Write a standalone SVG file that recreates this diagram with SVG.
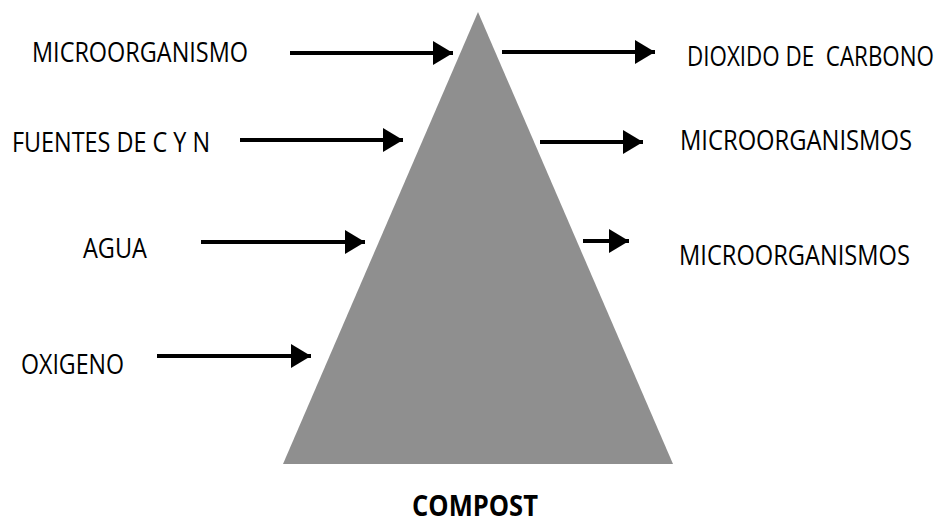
<svg xmlns="http://www.w3.org/2000/svg" width="947" height="519" viewBox="0 0 947 519">
  <style>
    .lbl { font-family: "Open Sans", "Liberation Sans", sans-serif; font-size: 28px; fill: #000; }
    .title { font-family: "Open Sans", "Liberation Sans", sans-serif; font-size: 29px; font-weight: bold; fill: #000; }
    .arrow { stroke: #000; stroke-width: 4; fill: none; marker-end: url(#head); }
  </style>
  <defs>
    <marker id="head" viewBox="0 0 20 24" refX="20" refY="12" markerWidth="20" markerHeight="24" markerUnits="userSpaceOnUse" orient="auto">
      <path d="M0,0 L20,12 L0,24 Z" fill="#000"/>
    </marker>
  </defs>
  <rect width="947" height="519" fill="#fff"/>

  <!-- compost pile -->
  <g id="pile">
    <polygon points="478,12 283,464 673,464" fill="#8f8f8f"/>
  </g>

  <!-- inputs -->
  <g id="in-microorganismo">
    <text class="lbl" x="32" y="62" textLength="216" lengthAdjust="spacingAndGlyphs">MICROORGANISMO</text>
  </g>
  <g id="in-fuentes">
    <text class="lbl" x="12" y="152" textLength="198" lengthAdjust="spacingAndGlyphs">FUENTES DE C Y N</text>
  </g>
  <g id="in-agua">
    <text class="lbl" x="83" y="258" textLength="64" lengthAdjust="spacingAndGlyphs">AGUA</text>
  </g>
  <g id="in-oxigeno">
    <text class="lbl" x="21" y="374" textLength="103" lengthAdjust="spacingAndGlyphs">OXIGENO</text>
  </g>

  <!-- outputs -->
  <g id="out-co2">
    <text class="lbl" x="687" y="66" textLength="247" lengthAdjust="spacingAndGlyphs" xml:space="preserve">DIOXIDO DE  CARBONO</text>
  </g>
  <g id="out-micro-1">
    <text class="lbl" x="680" y="150" textLength="232" lengthAdjust="spacingAndGlyphs">MICROORGANISMOS</text>
  </g>
  <g id="out-micro-2">
    <text class="lbl" x="679" y="265" textLength="231" lengthAdjust="spacingAndGlyphs">MICROORGANISMOS</text>
  </g>

  <g id="product">
    <text class="title" x="412" y="516" textLength="126" lengthAdjust="spacingAndGlyphs">COMPOST</text>
  </g>

  <!-- connectors -->
  <g id="connectors">
    <line class="arrow" x1="290" y1="53" x2="453" y2="53"/>
    <line class="arrow" x1="240" y1="140" x2="403" y2="140"/>
    <line class="arrow" x1="201" y1="242" x2="365" y2="242"/>
    <line class="arrow" x1="157" y1="356" x2="311" y2="356"/>
    <line class="arrow" x1="502" y1="52" x2="655" y2="52"/>
    <line class="arrow" x1="540" y1="142" x2="643" y2="142"/>
    <line class="arrow" x1="583" y1="241" x2="629" y2="241"/>
  </g>
</svg>
